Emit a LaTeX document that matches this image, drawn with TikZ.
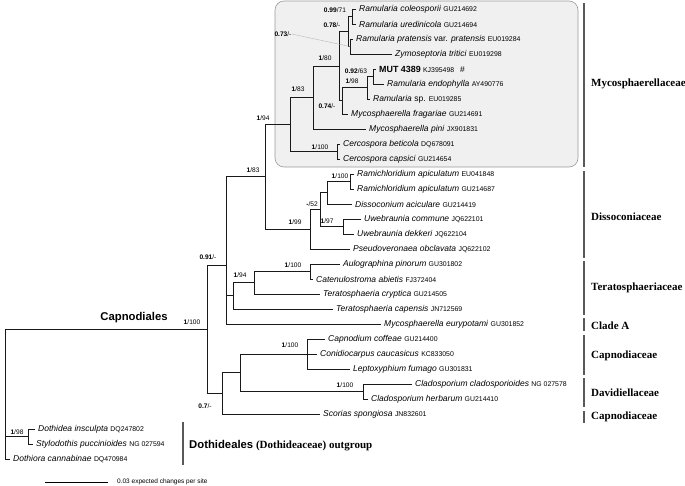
\documentclass[tikz,border=0pt]{standalone}
\usepackage{fontspec}
\setmainfont{Liberation Sans}
\newfontfamily\timesfont{Liberation Serif}
\newcommand{\taxon}[1]{\textit{#1}}
\newcommand{\accno}[1]{{\fontsize{6.9}{8}\selectfont #1}}

\tikzset{
  branch/.style={line width=0.85pt, black!90},
  leaf/.style={anchor=west, inner xsep=3pt, inner ysep=0pt, font=\fontsize{8.5}{10}\selectfont},
  supp/.style={inner sep=0pt, font=\fontsize{6.6}{8}\selectfont},
  leader/.style={gray!60, line width=0.35pt},
  fambar/.style={line width=2.6pt, black!65},
  fam/.style={anchor=west, inner sep=0pt, font=\timesfont\bfseries\fontsize{11}{13}\selectfont},
}

\begin{document}
\begin{tikzpicture}[x=1pt, y=-1pt]
  \useasboundingbox (0,0) rectangle (685,485);

  % Mycosphaerellaceae box
  \draw[rounded corners=9pt, fill=black!6, draw=black!40, line width=0.6pt] (275,1) rectangle (578,167);

  % Internal nodes (x, height of the branch that leads to them)
  \foreach \nm/\x/\y in {nA/352/16.5, nB/350/46.5, nM/348/31.5, nG/373/76.5, nF/367/87.75,
      nE/342/100.9, nC3/339/66.2, nD/313/97.6, nCer/337/151.5, nMyc/290/124.5,
      nRam/350/181.5, nRD/327/192.75, nUwe/343/226.5, n52/320/209.6, n99/310/229.3,
      nO/265/176.9, nT2/310/271.5, nT1/254/282.75, nT/233/295.9, nDD/226/265.6,
      nCap/307/354, nCla/363/391.5, nCC/240/372.75, n07/222/393.4, nCp/207/329.5,
      nDot/28/436.5, root/5/329.5}
    \coordinate (\nm) at (\x,\y);

  % Leaves
  \foreach \k/\from/\ex/\txt in {
      0/nA/356/{\taxon{Ramularia coleosporii} \accno{GU214692}},
      1/nA/356/{\taxon{Ramularia uredinicola} \accno{GU214694}},
      2/nB/353/{\taxon{Ramularia pratensis} var. \taxon{pratensis} \accno{EU019284}},
      3/nB/392/{\taxon{Zymoseptoria tritici} \accno{EU019298}},
      4/nG/376/{\textbf{\fontsize{8.9}{10}\selectfont MUT 4389} \accno{KJ395498}\hspace{6pt}\#},
      5/nG/384/{\taxon{Ramularia endophylla} \accno{AY490776}},
      6/nF/370/{\taxon{Ramularia} sp. \accno{EU019285}},
      7/nE/348/{\taxon{Mycosphaerella fragariae} \accno{GU214691}},
      8/nD/366/{\taxon{Mycosphaerella pini} \accno{JX901831}},
      9/nCer/340/{\taxon{Cercospora beticola} \accno{DQ678091}},
      10/nCer/340/{\taxon{Cercospora capsici} \accno{GU214654}},
      11/nRam/354/{\taxon{Ramichloridium apiculatum} \accno{EU041848}},
      12/nRam/354/{\taxon{Ramichloridium apiculatum} \accno{GU214687}},
      13/nRD/352/{\taxon{Dissoconium aciculare} \accno{GU214419}},
      14/nUwe/361/{\taxon{Uwebraunia commune} \accno{JQ622101}},
      15/nUwe/354/{\taxon{Uwebraunia dekkeri} \accno{JQ622104}},
      16/n99/350/{\taxon{Pseudoveronaea obclavata} \accno{JQ622102}},
      17/nT2/340/{\taxon{Aulographina pinorum} \accno{GU301802}},
      18/nT2/313/{\taxon{Catenulostroma abietis} \accno{FJ372404}},
      19/nT1/320/{\taxon{Teratosphaeria cryptica} \accno{GU214505}},
      20/nT/333/{\taxon{Teratosphaeria capensis} \accno{JN712569}},
      21/nDD/381/{\taxon{Mycosphaerella eurypotami} \accno{GU301852}},
      22/nCap/325/{\taxon{Capnodium coffeae} \accno{GU214400}},
      23/nCap/317/{\taxon{Conidiocarpus caucasicus} \accno{KC833050}},
      24/nCap/350/{\taxon{Leptoxyphium fumago} \accno{GU301831}},
      25/nCla/412/{\taxon{Cladosporium cladosporioides} \accno{NG 027578}},
      26/nCla/368/{\taxon{Cladosporium herbarum} \accno{GU214410}},
      27/n07/320/{\taxon{Scorias spongiosa} \accno{JN832601}},
      28/nDot/35/{\taxon{Dothidea insculpta} \accno{DQ247802}},
      29/nDot/33/{\taxon{Stylodothis puccinioides} \accno{NG 027594}},
      30/root/10/{\taxon{Dothiora cannabinae} \accno{DQ470984}}} {
    \node[leaf] (leaf\k) at (\ex,{9+15*\k}) {\txt};
    \draw[branch] (\from) |- (leaf\k.west);
  }

  % Branches between internal nodes
  \foreach \a/\b in {nM/nA, nM/nB, nC3/nM, nC3/nE, nE/nF, nF/nG, nD/nC3, nMyc/nD, nMyc/nCer,
      nO/nMyc, nO/n99, n99/n52, n52/nRD, n52/nUwe, nRD/nRam, nDD/nO, nDD/nT, nT/nT1,
      nT1/nT2, nCp/nDD, nCp/n07, n07/nCC, nCC/nCap, nCC/nCla, root/nCp, root/nDot}
    \draw[branch] (\a) |- (\b);

  % Support values (PP / BS)
  \foreach \x/\y/\pp/\bs [count=\c] in {335/10/0.99/71, 332/25/0.78/-, 325/58/1/80, 356/71/0.92/63,
      352/81/1/98, 298/89/1/83, 327/106/0.74/-, 263/118/1/94, 320/147/1/100, 253/170/1/83,
      340/176/1/100, 312/204/-/52, 327/221/1/97, 295/222/1/99, 208/257/0.91/-, 293/265/1/100,
      240/275/1/94, 192/322/1/100, 290/345/1/100, 345/385/1/100, 205/406/0.7/-, 17/432/1/98}
    \node[supp] (sup\c) at (\x,\y) {\textbf{\pp}/\bs};
  \node[supp] (sup073) at (283,34) {\textbf{0.73}/-};
  \draw[leader] (sup073.east) -- (nB);

  % Order label
  \node[font=\bfseries\fontsize{11.3}{13}\selectfont] (capno) at (134,318) {Capnodiales};

  % Family bars
  \foreach \t/\b/\ly/\lab [count=\c] in {3/167/84/Mycosphaerellaceae, 171/258/217/Dissoconiaceae,
      261/315/288/Teratosphaeriaceae, 318/331/326/Clade A, 335/375/356/Capnodiaceae,
      378/407/393/Davidiellaceae, 411/423/417/Capnodiaceae} {
    \draw[fambar] (584,\t) -- (584,\b);
    \node[fam] (fam\c) at (591,\ly) {\lab};
  }

  % Outgroup
  \draw[fambar] (183,422) -- (183,465);
  \node[anchor=west, inner sep=0pt] (outgrp) at (189,446)
    {{\bfseries\fontsize{11.3}{13}\selectfont Dothideales} {\timesfont\bfseries\fontsize{11}{13}\selectfont (Dothideaceae) outgroup}};

  % Scale bar
  \draw[line width=0.6pt] (45,482) -- (108,482);
  \node[anchor=west, inner sep=0pt, font=\fontsize{6.5}{8}\selectfont] (scaletxt) at (117,482) {0.03 expected changes per site};
\end{tikzpicture}
\end{document}
